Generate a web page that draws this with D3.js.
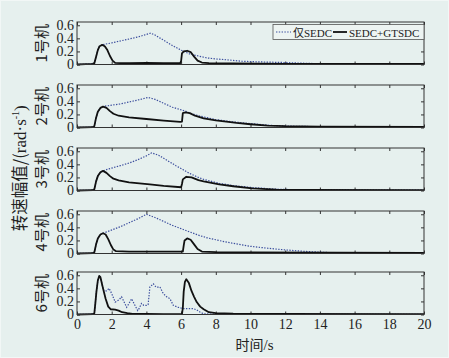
<!DOCTYPE html>
<html>
<head>
<meta charset="utf-8">
<script src="https://cdn.jsdelivr.net/npm/d3@7/dist/d3.min.js"></script>
<style>
  body { margin: 0; background: #e6f0ee; }
  svg { display: block; }
  .tick text { font-family: "Liberation Serif", serif; font-size: 14px; fill: #222; }
  .tick line { stroke: #333; }
</style>
</head>
<body>
<div id="chart"></div>
<script>
// time (s), amplitude (rad/s) pairs
var unit1Solid = [[0,0],[0.5,0.005],[0.9,0.01],[1.0,0.02],[1.1,0.12],[1.2,0.22],[1.3,0.28],[1.45,0.3],[1.6,0.28],[1.75,0.22],[1.9,0.13],[2.05,0.06],[2.2,0.025],[2.5,0.02],[3,0.02],[4,0.025],[5,0.02],[5.95,0.02],[6.0,0.05],[6.05,0.17],[6.15,0.2],[6.35,0.21],[6.55,0.19],[6.75,0.12],[6.95,0.06],[7.2,0.03],[7.6,0.02],[9,0.015],[12,0.01],[16,0.01],[20,0.008]];
var unit1Dot = [[0,0],[0.5,0.005],[0.9,0.01],[1.0,0.02],[1.1,0.12],[1.2,0.22],[1.3,0.28],[1.45,0.3],[1.6,0.31],[2.0,0.33],[2.5,0.36],[3.0,0.39],[3.5,0.42],[4.0,0.46],[4.25,0.48],[4.5,0.45],[5.0,0.37],[5.5,0.29],[6.0,0.22],[6.5,0.16],[7.0,0.13],[7.5,0.1],[8.0,0.085],[8.5,0.075],[9.5,0.05],[10.5,0.04],[12,0.03],[13,0.02],[14,0.012],[16,0.008],[20,0.005]];

var unit2Solid = [[0,0],[0.9,0.005],[1.0,0.02],[1.1,0.15],[1.2,0.24],[1.35,0.3],[1.5,0.32],[1.7,0.3],[1.9,0.25],[2.1,0.21],[2.4,0.18],[3,0.155],[4,0.13],[5,0.105],[5.95,0.085],[6.05,0.09],[6.1,0.22],[6.25,0.23],[6.5,0.22],[6.8,0.18],[7.3,0.14],[8,0.11],[9.2,0.07],[10,0.05],[11,0.03],[12,0.02],[14,0.012],[20,0.008]];
var unit2Dot = [[0,0],[0.9,0.005],[1.0,0.02],[1.1,0.15],[1.2,0.24],[1.35,0.3],[1.5,0.32],[1.7,0.33],[2.5,0.36],[3,0.39],[3.5,0.42],[4.1,0.46],[4.5,0.43],[5,0.37],[5.5,0.31],[6,0.27],[6.25,0.25],[6.5,0.22],[7,0.18],[7.5,0.15],[8,0.12],[9,0.085],[10,0.06],[11,0.035],[12,0.022],[14,0.012],[20,0.008]];

var unit3Solid = [[0,0],[0.9,0.005],[1.0,0.02],[1.1,0.14],[1.2,0.22],[1.35,0.28],[1.5,0.3],[1.7,0.27],[1.9,0.22],[2.1,0.18],[2.4,0.155],[3,0.125],[4.2,0.093],[5,0.07],[6,0.05],[6.05,0.1],[6.1,0.17],[6.3,0.21],[6.6,0.2],[7,0.16],[7.3,0.14],[8.2,0.093],[9,0.065],[10.1,0.034],[11.5,0.012],[13,0.008],[20,0.005]];
var unit3Dot = [[0,0],[0.9,0.005],[1.0,0.02],[1.1,0.14],[1.2,0.22],[1.35,0.28],[1.5,0.3],[1.7,0.32],[2.5,0.38],[3,0.42],[3.5,0.47],[4.0,0.53],[4.3,0.575],[4.7,0.54],[5.2,0.46],[5.7,0.38],[6.1,0.32],[6.5,0.26],[7,0.2],[7.3,0.17],[8.2,0.11],[9,0.075],[10.1,0.045],[11.5,0.02],[13,0.01],[20,0.005]];

var unit4Solid = [[0,0],[0.9,0.005],[1.0,0.02],[1.1,0.14],[1.2,0.23],[1.35,0.29],[1.5,0.31],[1.65,0.29],[1.8,0.22],[1.95,0.13],[2.1,0.06],[2.25,0.035],[3,0.03],[4,0.03],[5,0.03],[6.1,0.03],[6.15,0.12],[6.2,0.2],[6.35,0.23],[6.55,0.21],[6.75,0.14],[6.95,0.07],[7.2,0.03],[8,0.02],[10,0.015],[20,0.01]];
var unit4Dot = [[0,0],[0.9,0.005],[1.0,0.02],[1.1,0.14],[1.2,0.23],[1.35,0.29],[1.5,0.31],[1.7,0.33],[2.5,0.41],[3,0.47],[3.5,0.53],[4.0,0.6],[4.5,0.55],[5,0.49],[5.5,0.43],[6,0.38],[6.5,0.33],[7,0.28],[7.5,0.24],[8,0.21],[8.5,0.18],[9,0.155],[10,0.11],[11,0.08],[12,0.055],[13,0.035],[14,0.02],[15,0.01],[16,0.005],[20,0.003]];

var unit6Solid = [[0,0],[0.9,0.005],[1.0,0.02],[1.05,0.15],[1.12,0.35],[1.2,0.52],[1.28,0.59],[1.35,0.57],[1.5,0.4],[1.65,0.24],[1.8,0.12],[1.95,0.08],[2.2,0.075],[2.4,0.06],[2.6,0.035],[2.9,0.02],[3.2,0.01],[4,0.008],[5,0.005],[6.05,0.005],[6.1,0.1],[6.15,0.35],[6.22,0.5],[6.3,0.54],[6.45,0.48],[6.6,0.36],[6.75,0.27],[6.9,0.19],[7.1,0.12],[7.3,0.08],[7.6,0.035],[8,0.02],[9,0.012],[12,0.008],[20,0.005]];
var unit6Dot = [[0,0],[0.9,0.005],[1.0,0.02],[1.05,0.15],[1.12,0.35],[1.2,0.52],[1.28,0.59],[1.35,0.57],[1.5,0.4],[1.55,0.36],[1.7,0.36],[1.85,0.4],[2.0,0.32],[2.2,0.19],[2.4,0.22],[2.57,0.27],[2.7,0.2],[2.86,0.11],[3.0,0.17],[3.15,0.24],[3.3,0.16],[3.5,0.06],[3.6,0.1],[3.72,0.17],[3.85,0.14],[4.0,0.14],[4.1,0.15],[4.2,0.42],[4.4,0.47],[4.55,0.42],[4.78,0.42],[4.97,0.32],[5.17,0.27],[5.36,0.24],[5.55,0.14],[5.84,0.11],[6.13,0.09],[6.4,0.09],[6.7,0.09],[6.9,0.07],[7.1,0.035],[7.3,0.01],[8,0.005],[20,0.003]];

var panelLabels = ["1号机", "2号机", "3号机", "4号机", "6号机"];
var dotSeries = [unit1Dot, unit2Dot, unit3Dot, unit4Dot, unit6Dot];
var solidSeries = [unit1Solid, unit2Solid, unit3Solid, unit4Solid, unit6Solid];
var xTicks = [0, 2, 4, 6, 8, 10, 12, 14, 16, 18, 20];
var yTicks = [0, 0.2, 0.4, 0.6];
var legendLabels = ["仅SEDC", "SEDC+GTSDC"];

var W = 449, H = 358;
var left = 77, right = 424;
var panelTops = [22, 85, 148, 211, 272];
var panelH = 42.5;
var dotColor = "#3d4f9e";

var svg = d3.select("#chart").append("svg")
    .attr("width", W)
    .attr("height", H);

svg.append("rect")
    .attr("x", 0.5).attr("y", 0.5)
    .attr("width", W - 1).attr("height", H - 1)
    .attr("fill", "#e6f0ee")
    .attr("stroke", "#f2f7f6");

var x = d3.scaleLinear().domain([0, 20]).range([left, right]);

panelLabels.forEach(function(label, i) {
    var top = panelTops[i], bottom = top + panelH;
    var y = d3.scaleLinear().domain([0, 0.65]).range([bottom, top]);
    var g = svg.append("g");

    // bottom axis (labels only on the last panel)
    var bAxis = d3.axisBottom(x).tickValues(xTicks).tickSize(-3).tickPadding(5);
    if (i < panelLabels.length - 1) bAxis.tickFormat("");
    g.append("g").attr("transform", "translate(0," + bottom + ")").call(bAxis)
        .select(".domain").remove();
    g.append("g").attr("transform", "translate(0," + top + ")")
        .call(d3.axisTop(x).tickValues(xTicks).tickSize(-3).tickFormat(""))
        .select(".domain").remove();
    g.append("g").attr("transform", "translate(" + left + ",0)")
        .call(d3.axisLeft(y).tickValues(yTicks).tickSize(-3).tickPadding(3)
            .tickFormat(function(d) { return d === 0 ? "0" : d3.format(".1f")(d); }))
        .select(".domain").remove();
    g.append("g").attr("transform", "translate(" + right + ",0)")
        .call(d3.axisRight(y).tickValues(yTicks).tickSize(-3).tickFormat(""))
        .select(".domain").remove();

    var line = d3.line()
        .x(function(d) { return x(d[0]); })
        .y(function(d) { return y(d[1]); });

    g.append("path")
        .datum(dotSeries[i])
        .attr("fill", "none")
        .attr("stroke", dotColor)
        .attr("stroke-width", 1.2)
        .attr("stroke-dasharray", "1.4,1.4")
        .attr("d", line);

    g.append("path")
        .datum(solidSeries[i])
        .attr("fill", "none")
        .attr("stroke", "#111")
        .attr("stroke-width", 1.8)
        .attr("stroke-linejoin", "round")
        .attr("d", line);

    g.append("rect")
        .attr("x", left).attr("y", top)
        .attr("width", right - left).attr("height", panelH)
        .attr("fill", "none")
        .attr("stroke", "#333")
        .attr("stroke-width", 1);

    g.append("text")
        .attr("transform", "translate(47," + (top + panelH / 2) + ") rotate(-90)")
        .attr("text-anchor", "middle")
        .style("font-family", "'Noto Sans CJK SC', 'Liberation Serif', serif")
        .style("font-size", "15px")
        .attr("fill", "#222")
        .text(label);
});

// y axis title
var yTitle = svg.append("text")
    .attr("transform", "translate(26," + ((panelTops[0] + panelTops[4] + panelH) / 2) + ") rotate(-90)")
    .attr("text-anchor", "middle")
    .style("font-family", "'Noto Sans CJK SC', 'Liberation Serif', serif")
    .style("font-size", "16.5px")
    .attr("fill", "#222");
yTitle.append("tspan").text("转速幅值/(");
yTitle.append("tspan").style("font-family", "'Liberation Serif', serif").style("font-size", "17px").text("rad·s");
yTitle.append("tspan").attr("dy", -7).style("font-family", "'Liberation Serif', serif").style("font-size", "10px").text("-1");
yTitle.append("tspan").attr("dy", 7).style("font-family", "'Liberation Serif', serif").style("font-size", "17px").text(")");

// x axis title
var xTitle = svg.append("text")
    .attr("x", (left + right) / 2 + 4)
    .attr("y", 350)
    .attr("text-anchor", "middle")
    .style("font-family", "'Noto Sans CJK SC', serif")
    .style("font-size", "14px")
    .attr("fill", "#222");
xTitle.append("tspan").text("时间");
xTitle.append("tspan").style("font-family", "'Liberation Serif', serif").style("font-size", "15px").text("/s");

// legend
var lg = svg.append("g");
lg.append("rect")
    .attr("x", 273).attr("y", 24.5)
    .attr("width", right - 273).attr("height", 15)
    .attr("fill", "#edf4f2")
    .attr("stroke", "#555")
    .attr("stroke-width", 0.8);
lg.append("line")
    .attr("x1", 276).attr("x2", 291).attr("y1", 32).attr("y2", 32)
    .attr("stroke", dotColor).attr("stroke-width", 1.2).attr("stroke-dasharray", "1.4,1.4");
var lt1 = lg.append("text")
    .attr("x", 293).attr("y", 36.5)
    .style("font-size", "11px")
    .attr("fill", "#222");
lt1.append("tspan").style("font-family", "'Noto Sans CJK SC', serif").text(legendLabels[0].slice(0, 1));
lt1.append("tspan").style("font-family", "'Liberation Serif', serif").text(legendLabels[0].slice(1));
lg.append("line")
    .attr("x1", 333).attr("x2", 347).attr("y1", 32).attr("y2", 32)
    .attr("stroke", "#111").attr("stroke-width", 1.8);
lg.append("text")
    .attr("x", 349).attr("y", 36.5)
    .style("font-family", "'Liberation Serif', serif")
    .style("font-size", "11px")
    .attr("fill", "#222")
    .text(legendLabels[1]);
</script>
</body>
</html>
